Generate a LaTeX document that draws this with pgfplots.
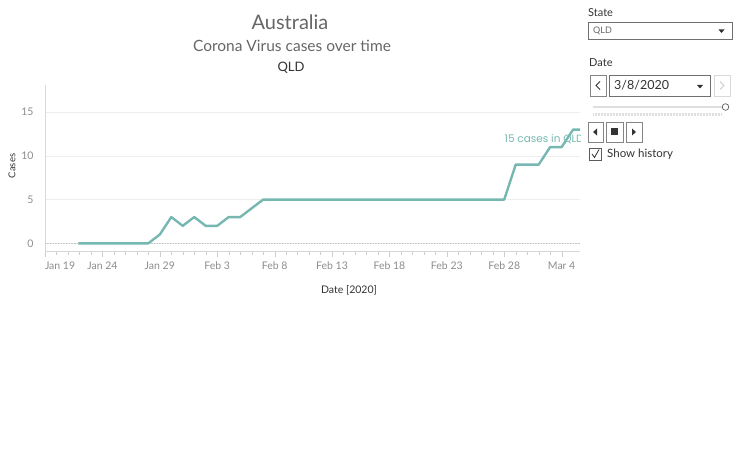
\documentclass[border=0pt]{standalone}
\usepackage{pgfplots}
\pgfplotsset{compat=1.18}
\usepackage{fontspec}
\setmainfont{Lato}
\newfontfamily\popfont{Poppins}
\definecolor{teal}{HTML}{76B7B2}
\definecolor{txt}{HTML}{666666}
\definecolor{tick}{HTML}{8C8C8C}
\definecolor{grid}{HTML}{EEEEEE}
\definecolor{dark}{HTML}{333333}

% days since Jan 19 2020, cumulative cases in QLD
\begin{document}
\begin{tikzpicture}
\path[use as bounding box] (0,0) rectangle (736pt,-454pt);
% end label, clipped by the plot area, under the line
\begin{scope}
\clip (45pt,-85pt) rectangle (580pt,-252pt);
\node[anchor=west, text=teal, font=\popfont\fontsize{10.5}{12}\selectfont, inner sep=0] at (504.5pt,-139.5pt) {15 cases in QLD};
\end{scope}
\begin{axis}[
    at={(45pt,-251.7pt)}, anchor=south west,
    scale only axis, width=535pt, height=166.7pt,
    xmin=0, xmax=46.6, ymin=-0.96, ymax=18.1,
    axis x line=bottom, axis y line=left,
    axis line style={draw=grid!80!gray, -},
    xtick={0,5,...,45},
    xticklabels={\rlap{Jan 19},Jan 24,Jan 29,Feb 3,Feb 8,Feb 13,Feb 18,Feb 23,Feb 28,Mar 4},
    minor x tick num=4,
    ytick={0,5,10,15},
    tick align=outside,
    major tick length=5pt,
    minor tick length=3pt,
    x tick style={draw=grid!70!gray},
    y tick style={draw=none},
    ymajorgrids, grid style={draw=grid},
    ticklabel style={font=\fontsize{10.5}{12}\selectfont, text=tick},
    xticklabel style={yshift=-2pt},
    yticklabel style={xshift=-3pt},
    clip=true,
    /pgf/number format/assume math mode=true,
]
\addplot[draw=tick!50, densely dotted, line width=0.6pt, forget plot] coordinates {(0,0) (46.6,0)};
\addplot[teal, line width=2.4pt, line join=round] coordinates {
(2.9,0) (4,0) (5,0) (6,0) (7,0) (8,0) (9,0)
(10,1) (11,3) (12,2) (13,3) (14,2) (15,2) (16,3) (17,3) (18,4)
(19,5) (20,5) (25,5) (30,5) (35,5) (40,5)
(41,9) (42,9) (43,9) (44,11) (45,11) (46,13) (47,13) (48,15) (49,15)
};
\end{axis}
% titles
\node[text=txt, font=\fontsize{20}{24}\selectfont] at (290pt,-22pt) {Australia};
\node[text=txt, font=\fontsize{15.5}{18}\selectfont] at (292pt,-46pt) {Corona Virus cases over time};
\node[text=dark, font=\fontsize{13}{15}\selectfont] at (291pt,-68pt) {QLD};
\node[text=dark, rotate=90, font=\fontsize{9.5}{11}\selectfont] at (12pt,-166pt) {Cases};
\node[text=dark, font=\fontsize{10.5}{12}\selectfont] at (349pt,-290pt) {Date [2020]};
% right panel
\node[anchor=west, text=dark, inner sep=0, font=\fontsize{11}{13}\selectfont] at (588pt,-13pt) {State};
\draw[draw=dark!70, line width=0.7pt] (588pt,-22.5pt) rectangle (732pt,-39pt);
\node[anchor=west, text=txt, inner sep=0, font=\fontsize{9}{10}\selectfont] at (593pt,-31pt) {QLD};
\fill[dark] (718.5pt,-29.5pt) -- (724.5pt,-29.5pt) -- (721.5pt,-33pt) -- cycle;
\node[anchor=west, text=dark, inner sep=0, font=\fontsize{11}{13}\selectfont] at (589pt,-63pt) {Date};
\draw[draw=dark!60, line width=0.6pt] (590pt,-75pt) rectangle (606pt,-96pt);
\draw[dark, line width=1pt] (600pt,-81.5pt) -- (596pt,-85.5pt) -- (600pt,-89.5pt);
\draw[draw=dark!70, line width=0.7pt] (609pt,-75pt) rectangle (710pt,-96pt);
\node[anchor=west, text=dark, inner sep=0, font=\fontsize{12.5}{14}\selectfont] at (614pt,-85pt) {3/8/2020};
\fill[dark] (697pt,-85pt) -- (703pt,-85pt) -- (700pt,-88.5pt) -- cycle;
\draw[draw=gray!30, line width=0.6pt] (714pt,-75pt) rectangle (730pt,-96pt);
\draw[gray!40, line width=1pt] (720pt,-81.5pt) -- (724pt,-85.5pt) -- (720pt,-89.5pt);
\draw[gray!25, line width=2.5pt] (593pt,-107pt) -- (722pt,-107pt);
\draw[gray!25, line width=3pt, dash pattern=on 0.6pt off 0.9pt] (593pt,-115pt) -- (722pt,-115pt);
\filldraw[fill=white, draw=dark!80, line width=0.7pt] (725.5pt,-107pt) circle (3.3pt);
\foreach \a/\b in {588/603, 606/623, 626/642}
  \draw[draw=dark!60, line width=0.6pt] (\a pt,-122pt) rectangle (\b pt,-142pt);
\fill[dark] (597pt,-128.5pt) -- (597pt,-135.5pt) -- (593pt,-132pt) -- cycle;
\fill[dark] (611pt,-128.5pt) rectangle (618pt,-135.5pt);
\fill[dark] (632pt,-128.5pt) -- (632pt,-135.5pt) -- (636pt,-132pt) -- cycle;
\draw[draw=dark!80, line width=0.6pt] (589.5pt,-148pt) rectangle (601.5pt,-160pt);
\draw[dark, line width=0.8pt] (592pt,-154pt) -- (594.5pt,-157.5pt) -- (599pt,-149.5pt);
\node[anchor=west, text=dark, inner sep=0, font=\fontsize{11.5}{13}\selectfont] at (607pt,-154pt) {Show history};
\end{tikzpicture}
\end{document}
